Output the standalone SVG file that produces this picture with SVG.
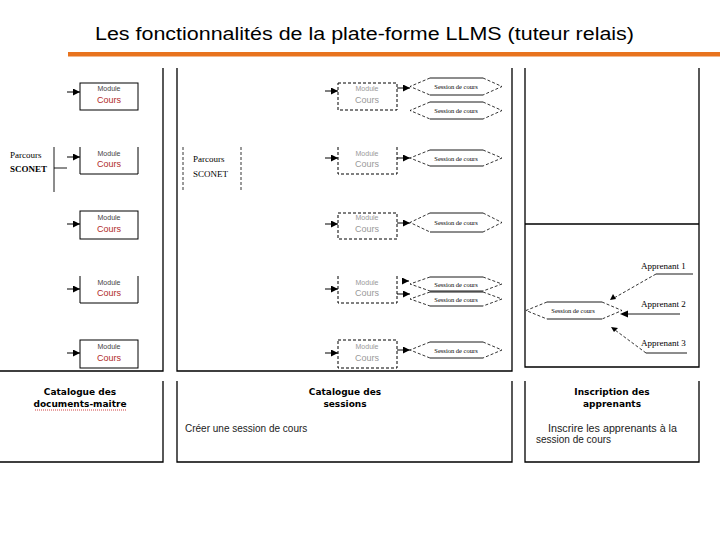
<svg xmlns="http://www.w3.org/2000/svg" width="720" height="540" viewBox="0 0 720 540">
<style>
.ln{stroke:#000;stroke-width:1.3;fill:none}
.box{stroke:#000;stroke-width:1;fill:#fff}
.dbox{stroke:#000;stroke-width:1;stroke-dasharray:3 2;fill:#fff}
.dash{stroke:#000;stroke-width:0.8;stroke-dasharray:3 2;fill:none}
.sol{stroke:#000;stroke-width:0.9;fill:none}
.ar{stroke:#000;stroke-width:1;fill:none;marker-end:url(#ah)}
.mod{font-family:"Liberation Sans",Arial,sans-serif;font-size:7px;fill:#444;text-anchor:middle}
.crs{font-family:"Liberation Sans",Arial,sans-serif;font-size:9px;fill:#b02a2a;text-anchor:middle}
.gmod{font-family:"Liberation Sans",Arial,sans-serif;font-size:7px;fill:#999;text-anchor:middle}
.gcrs{font-family:"Liberation Sans",Arial,sans-serif;font-size:9px;fill:#999;text-anchor:middle}
.hx{font-family:"Liberation Serif","Times New Roman",serif;font-size:6.5px;fill:#000;text-anchor:middle}
.ser{font-family:"Liberation Serif","Times New Roman",serif;font-size:9px;fill:#000}
.hd{font-family:"DejaVu Sans",Verdana,sans-serif;font-weight:bold;font-size:9px;fill:#000;text-anchor:middle}
.bt{font-family:"Liberation Sans",Arial,sans-serif;font-size:10px;fill:#222}
</style>
<defs>
<marker id="ah" viewBox="0 0 10 10" refX="10" refY="5" markerWidth="7" markerHeight="7" markerUnits="userSpaceOnUse" orient="auto"><path d="M0,0 L10,5 L0,10 z" fill="#000"/></marker>
</defs>
<rect width="720" height="540" fill="#fff"/>
<g id="title">
<text x="95" y="40" font-family="Liberation Sans,Arial,sans-serif" font-size="17.5" fill="#000" textLength="539" lengthAdjust="spacingAndGlyphs">Les fonctionnalités de la plate-forme LLMS (tuteur relais)</text>
<rect x="68" y="52" width="652" height="4.5" fill="#e8731e"/>
</g>
<g id="frames">
<path class="ln" d="M163,68 V371 H0"/>
<path class="ln" d="M177,68 V371 H512 V68"/>
<path class="ln" d="M525,68 V367 H699 V68 M525,224 H699"/>
<path class="ln" d="M0,462 H163 V381"/>
<path class="ln" d="M177,381 V462 H512 V381"/>
<path class="ln" d="M525,381 V462 H699 V381"/>
</g>
<g id="left-modules">
<g id="lm1"><rect class="box" x="80" y="83" width="58" height="27"/><text class="mod" x="109" y="91">Module</text><text class="crs" x="109" y="103">Cours</text></g>
<g id="lm2"><path class="box" d="M80,147 V174 H138 V147"/><text class="mod" x="109" y="156">Module</text><text class="crs" x="109" y="167">Cours</text></g>
<g id="lm3"><rect class="box" x="80" y="211" width="58" height="28"/><text class="mod" x="109" y="220">Module</text><text class="crs" x="109" y="232">Cours</text></g>
<g id="lm4"><path class="box" d="M80,276 V303 H138 V276"/><text class="mod" x="109" y="285">Module</text><text class="crs" x="109" y="296">Cours</text></g>
<g id="lm5"><rect class="box" x="80" y="340" width="58" height="28"/><text class="mod" x="109" y="349">Module</text><text class="crs" x="109" y="361">Cours</text></g>
</g>
<g id="left-sconet">
<text class="ser" x="10" y="158">Parcours</text>
<text class="ser" x="10" y="172" font-weight="bold" font-size="8.5">SCONET</text>
</g>
<g id="mid-sconet">
<path class="dash" d="M183,147 V192 M241,147 V192"/>
<text class="ser" x="193" y="162">Parcours</text>
<text class="ser" x="193" y="177" font-size="8.5">SCONET</text>
</g>
<g id="mid-modules">
<g id="mm1"><rect class="dbox" x="338" y="83" width="59" height="27"/><text class="gmod" x="367" y="91">Module</text><text class="gcrs" x="367" y="103">Cours</text></g>
<g id="mm2"><path class="dbox" d="M338,147 V174 H397 V147"/><text class="gmod" x="367" y="156">Module</text><text class="gcrs" x="367" y="167">Cours</text></g>
<g id="mm3"><rect class="dbox" x="338" y="213" width="59" height="26"/><text class="gmod" x="367" y="220">Module</text><text class="gcrs" x="367" y="232">Cours</text></g>
<g id="mm4"><path class="dbox" d="M338,276 V303 H397 V276"/><text class="gmod" x="367" y="285">Module</text><text class="gcrs" x="367" y="296">Cours</text></g>
<g id="mm5"><rect class="dbox" x="338" y="340" width="59" height="28"/><text class="gmod" x="367" y="349">Module</text><text class="gcrs" x="367" y="361">Cours</text></g>
</g>
<g id="sessions">
<g id="s1"><path class="sol" d="M430,78 H483 M430,95 H483"/><path class="dash" d="M430,78 L410,86.5 L430,95 M483,78 L502,86.5 L483,95"/><text class="hx" x="456" y="89">Session de cours</text></g>
<g id="s2"><path class="sol" d="M430,102 H483 M430,119 H483"/><path class="dash" d="M430,102 L410,110.5 L430,119 M483,102 L502,110.5 L483,119"/><text class="hx" x="456" y="113">Session de cours</text></g>
<g id="s3"><path class="sol" d="M430,150 H483 M430,166 H483"/><path class="dash" d="M430,150 L410,158 L430,166 M483,150 L502,158 L483,166"/><text class="hx" x="456" y="160.5">Session de cours</text></g>
<g id="s4"><path class="sol" d="M430,213 H483 M430,232 H483"/><path class="dash" d="M430,213 L410,222.5 L430,232 M483,213 L502,222.5 L483,232"/><text class="hx" x="456" y="225">Session de cours</text></g>
<g id="s5"><path class="sol" d="M430,277 H483 M430,291 H483"/><path class="dash" d="M430,277 L410,284 L430,291 M483,277 L502,284 L483,291"/><text class="hx" x="456" y="286.5">Session de cours</text></g>
<g id="s6"><path class="sol" d="M430,292 H483 M430,306 H483"/><path class="dash" d="M430,292 L410,299 L430,306 M483,292 L502,299 L483,306"/><text class="hx" x="456" y="301.5">Session de cours</text></g>
<g id="s7"><path class="sol" d="M430,342 H483 M430,358 H483"/><path class="dash" d="M430,342 L410,350 L430,358 M483,342 L502,350 L483,358"/><text class="hx" x="456" y="352.5">Session de cours</text></g>
<g id="s8"><path class="sol" d="M547,302 H602 M547,319 H602"/><path class="dash" d="M547,302 L526,310.5 L547,319 M602,302 L622,310.5 L602,319"/><text class="hx" x="573" y="313">Session de cours</text></g>
</g>
<g id="apprenants">
<text class="ser" x="641" y="269">Apprenant 1</text>
<text class="ser" x="641" y="307">Apprenant 2</text>
<text class="ser" x="641" y="346">Apprenant 3</text>
</g>
<g id="connectors">
<path class="sol" d="M54,147 V192 M54,168 H67"/>
<path class="ar" d="M67,92 H80"/>
<path class="ar" d="M67,157 H80"/>
<path class="ar" d="M67,224 H80"/>
<path class="ar" d="M67,289 H80"/>
<path class="ar" d="M67,353 H80"/>
<path class="ar" d="M325,91 H338"/>
<path class="ar" d="M325,158 H338"/>
<path class="ar" d="M325,224 H338"/>
<path class="ar" d="M325,289 H338"/>
<path class="ar" d="M325,353 H338"/>
<path class="ar" d="M397,88 H410"/>
<path class="ar" d="M397,158 H410"/>
<path class="ar" d="M397,223 H410"/>
<path class="ar" d="M402,281 H409"/>
<path class="ar" d="M397,294 H410"/>
<path class="ar" d="M397,350 H410"/>
<path class="sol" d="M656,274 H693"/>
<path class="dash" d="M656,274 L614,298"/>
<path d="M610,300 L613,294 L616,299 z" fill="#000"/>
<path class="sol" d="M680,314 H627"/>
<path d="M620,314 L628,310.5 L628,317.5 z" fill="#000"/>
<path class="sol" d="M646,353 H687"/>
<path class="dash" d="M646,353 L615,330"/>
<path d="M611,327 L618,328 L614,332 z" fill="#000"/>
</g>
<g id="bottom-labels">
<text class="hd" x="80" y="395">Catalogue des</text>
<text class="hd" x="80" y="407">documents-maitre</text>
<path d="M35,410 H127" stroke="#d04040" stroke-width="1" stroke-dasharray="1 1"/>
<text class="hd" x="345" y="395">Catalogue des</text>
<text class="hd" x="345" y="407">sessions</text>
<text class="bt" x="185" y="432">Créer une session de cours</text>
<text class="hd" x="612" y="395">Inscription des</text>
<text class="hd" x="612" y="407">apprenants</text>
<text class="bt" x="548" y="432" textLength="129" lengthAdjust="spacingAndGlyphs">Inscrire les apprenants à la</text>
<text class="bt" x="536" y="443">session de cours</text>
</g>
</svg>
